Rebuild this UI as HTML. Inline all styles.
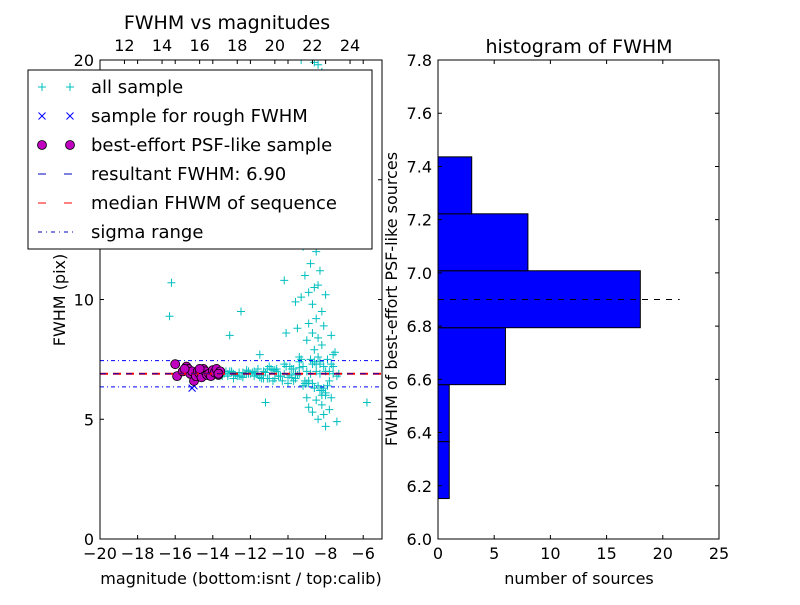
<!DOCTYPE html>
<html><head><meta charset="utf-8"><style>
body{margin:0;background:#fff}
svg text{font-family:"DejaVu Sans","Liberation Sans",sans-serif;fill:#000}
</style></head><body>
<svg id="c" width="800" height="600" viewBox="0 0 800 600" xmlns="http://www.w3.org/2000/svg">
<rect width="800" height="600" fill="#fff"/>
</svg>
<script>
// ---------- data ----------
const allMag = [-16.2,-16.3,-12.5,-13.1,-11.2,-5.8,-10.2,-10.1,-9.5,
-9.3,-8.6,-8.4,-8.6,-8.2,-8.5,-8.9,-8.3,-8.7,-8.5,-8.1,-8.8,-8.4,-9.0,-8.6,-8.2,-9.2,-8.5,-8.8,-8.3,-9.1,-8.6,-8.9,-8.4,-8.0,-9.3,-8.7,-8.2,-9.6,-8.5,-8.9,-8.1,-8.7,-8.4,-9.0,-7.7,-8.2,-7.5,-8.6,-7.9,-9.4,-8.3,-7.6,
-8.3,-8.0,-8.5,-7.7,-8.2,-8.9,-8.7,-8.1,-7.4,-8.0,-7.8,-9.0,-8.4,
-13.4,-13.2,-13.0,-12.8,-12.6,-12.4,-12.2,-12.0,-11.8,-11.6,-11.4,-11.2,-11.0,-10.8,-10.6,-10.4,-10.2,-10.0,-9.8,-9.6,-9.4,-9.2,-9.0,-8.8,-8.6,-8.4,-8.2,-8.0,-7.8,-7.6,-7.4,
-13.3,-12.9,-12.5,-12.1,-11.7,-11.3,-10.9,-10.5,-10.1,-9.7,-9.3,-8.9,-8.5,-8.1,-7.7,-7.3,
-12.7,-11.9,-11.1,-10.3,-9.5,-8.7,-7.9,-11.5,-10.7,-9.9,-9.1,-8.3,
-13.5,-13.1,-12.3,-11.5,-10.7,-9.9,-9.1,-8.3,-13.0,-12.6,-12.2,-11.8,-11.4,-11.0,-10.6,-10.2,-9.8,-9.4,-9.0,-8.6,-8.2,-7.8,
-12.9,-12.1,-11.3,-10.5,-9.7,-8.9,-8.1,-12.4,-11.6,-10.8,-10.0,-9.2,-8.4,-7.6,-13.2,-11.1,-10.4,-9.6,-8.8,-8.0,-9.4,-8.7,-8.5,-8.2];
const allFwhm = [10.7,9.3,9.5,8.5,5.7,5.7,10.8,8.6,8.8,
20,19.9,19.8,19.2,19.5,18.5,17.5,17,16.5,15.5,15,14.5,14,13.5,13,12.5,12.2,12,11.5,11.2,11,10.5,10.3,10.6,10.2,10.1,9.8,9.5,9.9,9.2,9.0,8.9,8.6,8.4,8.3,8.5,8.1,7.8,7.9,7.5,7.6,7.4,7.2,
6.2,6.0,5.8,5.9,5.6,5.5,5.3,5.2,4.9,4.7,5.4,5.9,5.0,
6.9,6.8,7.0,6.85,6.95,6.75,7.05,6.9,6.8,7.1,6.7,6.95,7.2,6.6,7.0,6.8,7.3,6.5,7.1,6.7,7.4,6.4,7.0,6.9,6.3,7.6,6.2,7.0,6.6,7.7,6.8,
7.0,6.9,6.8,7.0,6.9,6.7,7.1,6.8,7.2,6.6,7.5,6.5,7.0,6.3,7.3,6.9,
6.8,6.95,7.1,6.6,6.85,7.3,6.4,7.7,6.7,7.2,6.5,6.9,
6.8,7.0,6.9,6.75,7.05,6.85,6.6,7.3,6.95,6.8,6.9,7.0,6.85,6.7,7.1,6.9,6.75,7.15,6.5,7.4,6.2,7.0,
6.7,6.9,7.0,6.8,7.1,6.6,7.2,6.95,6.85,7.05,6.75,7.2,6.4,6.9,6.9,6.7,6.8,6.9,7.5,6.1,6.9,6.5,7.3,6.0];
const roughMag = [-15.1,-15.0];
const roughFwhm = [6.3,6.4];
const psfMag = [-16.0,-15.9,-15.6,-15.4,-15.3,-15.2,-15.1,-15.0,-14.9,-14.8,-14.7,-14.6,-14.5,-14.4,-14.3,-14.2,-14.1,-14.0,-13.9,-13.8,-13.7,-13.6,-15.5,-14.7,-13.7];
const psfFwhm = [7.3,6.8,7.0,7.2,7.1,6.9,7.0,6.6,6.8,7.0,6.9,6.75,7.1,7.0,6.85,6.9,6.8,7.05,6.95,7.1,6.85,7.0,7.1,7.1,6.9];
const resultFwhm = 6.90;
const sigmaLo = 6.35, sigmaHi = 7.45;
const histEdges = [6.152,6.366,6.580,6.794,7.008,7.222,7.436];
const histCounts = [1,1,6,18,8,3];
const leftXTicks = [-20,-18,-16,-14,-12,-10,-8,-6];
const leftYTicks = [0,5,10,15,20];
const topTicks = [12,14,16,18,20,22,24];
const rightXTicks = [0,5,10,15,20,25];
const rightYTicks = [6.0,6.2,6.4,6.6,6.8,7.0,7.2,7.4,7.6,7.8];
const legendLabels = ["all sample","sample for rough FWHM","best-effort PSF-like sample","resultant FWHM: 6.90","median FHWM of sequence","sigma range"];

// ---------- helpers ----------
const svg=document.getElementById('c');const NS='http://www.w3.org/2000/svg';
function mk(t,a,p){const e=document.createElementNS(NS,t);for(const k in a)e.setAttribute(k,a[k]);(p||svg).appendChild(e);return e;}
const L={x0:100,x1:382,y0:539,y1:60,xmin:-20,xmax:-5,ymin:0,ymax:20};
const R={x0:438,x1:719,y0:539,y1:60,xmin:0,xmax:25,ymin:6.0,ymax:7.8};
const lx=v=>L.x0+(v-L.xmin)/(L.xmax-L.xmin)*(L.x1-L.x0);
const ly=v=>L.y0-(v-L.ymin)/(L.ymax-L.ymin)*(L.y0-L.y1);
const topOffset=30.7; const tx=v=>lx(v-topOffset);
const rx=v=>R.x0+(v-R.xmin)/(R.xmax-R.xmin)*(R.x1-R.x0);
const ry=v=>R.y0-(v-R.ymin)/(R.ymax-R.ymin)*(R.y0-R.y1);

function plus(g,x,y,c){mk('path',{d:`M${x-4},${y}h8M${x},${y-4}v8`,stroke:c,'stroke-width':1,fill:'none'},g);}
function cross(g,x,y,c){mk('path',{d:`M${x-3.5},${y-3.5}l7,7M${x-3.5},${y+3.5}l7,-7`,stroke:c,'stroke-width':1,fill:'none'},g);}

// ---------- left plot ----------
const lg=mk('g',{});  
const clip=mk('clipPath',{id:'lc'});mk('rect',{x:L.x0,y:L.y1,width:L.x1-L.x0,height:L.y0-L.y1},clip);
const inner=mk('g',{'clip-path':'url(#lc)'},lg);
const allG=mk('g',{},inner);  
allMag.forEach((m,i)=>plus(allG,lx(m),ly(allFwhm[i]),'#00bfbf'));
const sl=mk('line',{x1:L.x0,x2:L.x1,y1:ly(sigmaHi),y2:ly(sigmaHi),stroke:'#0000ff','stroke-dasharray':'4 3 1 3'},inner);
 
const sl2=mk('line',{x1:L.x0,x2:L.x1,y1:ly(sigmaLo),y2:ly(sigmaLo),stroke:'#0000ff','stroke-dasharray':'4 3 1 3'},inner);
 
const rg=mk('g',{},inner);  
roughMag.forEach((m,i)=>cross(rg,lx(m),ly(roughFwhm[i]),'#0000ff'));
const pg=mk('g',{},inner);  
psfMag.forEach((m,i)=>{mk('circle',{cx:lx(m),cy:ly(psfFwhm[i]),r:4.5,fill:'#bf00bf',stroke:'#000','stroke-width':0.8},pg);});
const ml=mk('line',{x1:L.x0,x2:L.x1,y1:ly(resultFwhm),y2:ly(resultFwhm),stroke:'#ff0000','stroke-width':2,'stroke-dasharray':'8 5'},inner);
 
const rl=mk('line',{x1:L.x0,x2:L.x1,y1:ly(resultFwhm),y2:ly(resultFwhm),stroke:'#0000bf','stroke-width':1,'stroke-dasharray':'6 7'},inner);
 
mk('rect',{x:L.x0,y:L.y1,width:L.x1-L.x0,height:L.y0-L.y1,fill:'none',stroke:'#000'},lg);
leftXTicks.forEach(v=>{const x=lx(v);mk('path',{d:`M${x},${L.y0}v-4M${x},${L.y1}v4`,stroke:'#000'},lg);
 const t=mk('text',{x:x,y:559,'font-size':16,'text-anchor':'middle'},lg);t.textContent=v<0?'\u2212'+(-v):v;
  });
topTicks.forEach(v=>{const x=tx(v);mk('path',{d:`M${x},${L.y1}v4`,stroke:'#000'},lg);
 const t=mk('text',{x:x,y:51,'font-size':16,'text-anchor':'middle'},lg);t.textContent=v;
  });
leftYTicks.forEach(v=>{const y=ly(v);mk('path',{d:`M${L.x0},${y}h4M${L.x1},${y}h-4`,stroke:'#000'},lg);
 const t=mk('text',{x:94,y:y+6,'font-size':16,'text-anchor':'end'},lg);t.textContent=v;
  });
let t=mk('text',{x:241,y:584,'font-size':16,'text-anchor':'middle'});t.textContent='magnitude (bottom:isnt / top:calib)';
 
t=mk('text',{x:0,y:0,'font-size':16,'text-anchor':'middle',transform:'translate(65,300) rotate(-90)'});t.textContent='FWHM (pix)';
 
t=mk('text',{x:227,y:29,'font-size':19,'text-anchor':'middle'});t.textContent='FWHM vs magnitudes';
 

// legend
const leg=mk('g',{});  
mk('rect',{x:28,y:70,width:344,height:179,fill:'#fff',stroke:'#000'},leg);
legendLabels.forEach((s,i)=>{const y=87+i*29;
 const e=mk('g',{},leg);  
 if(i==0){plus(e,42,y,'#00bfbf');plus(e,70,y,'#00bfbf');}
 if(i==1){cross(e,42,y,'#0000ff');cross(e,70,y,'#0000ff');}
 if(i==2){mk('circle',{cx:42,cy:y,r:4.5,fill:'#bf00bf',stroke:'#000','stroke-width':0.8},e);mk('circle',{cx:70,cy:y,r:4.5,fill:'#bf00bf',stroke:'#000','stroke-width':0.8},e);}
 if(i==3)mk('path',{d:`M38,${y}h8M64,${y}h8`,stroke:'#0000bf'},e);
 if(i==4)mk('path',{d:`M38,${y}h8M64,${y}h8`,stroke:'#ff0000'},e);
 if(i==5)mk('path',{d:`M38,${y}h4M46,${y}h1M51,${y}h4M59,${y}h1M64,${y}h4M72,${y}h1`,stroke:'#0000bf'},e);
 const tt=mk('text',{x:91,y:y+6,'font-size':18},e);tt.textContent=s;});

// ---------- right plot ----------
const hg=mk('g',{});  
histCounts.forEach((c,i)=>{const y0=ry(histEdges[i+1]),y1=ry(histEdges[i]);
 const b=mk('rect',{x:rx(0),y:y0,width:rx(c)-rx(0),height:y1-y0,fill:'#0000ff',stroke:'#000','stroke-width':1},hg);
  });
const dl=mk('line',{x1:rx(0),x2:rx(21.5),y1:ry(resultFwhm),y2:ry(resultFwhm),stroke:'#000','stroke-dasharray':'6 6'},hg);
 
mk('rect',{x:R.x0,y:R.y1,width:R.x1-R.x0,height:R.y0-R.y1,fill:'none',stroke:'#000'},hg);
rightXTicks.forEach(v=>{const x=rx(v);mk('path',{d:`M${x},${R.y0}v-4M${x},${R.y1}v4`,stroke:'#000'},hg);
 const t=mk('text',{x:x,y:559,'font-size':16,'text-anchor':'middle'},hg);t.textContent=v;
  });
rightYTicks.forEach(v=>{const y=ry(v);mk('path',{d:`M${R.x0},${y}h4M${R.x1},${y}h-4`,stroke:'#000'},hg);
 const t=mk('text',{x:432,y:y+6,'font-size':16,'text-anchor':'end'},hg);t.textContent=v.toFixed(1);
  });
t=mk('text',{x:579,y:584,'font-size':16,'text-anchor':'middle'});t.textContent='number of sources';
 
t=mk('text',{x:0,y:0,'font-size':16,'text-anchor':'middle',transform:'translate(397,299) rotate(-90)'});t.textContent='FWHM of best-effort PSF-like sources';
 
t=mk('text',{x:579,y:53,'font-size':19,'text-anchor':'middle'});t.textContent='histogram of FWHM';
 
</script>
</body></html>
